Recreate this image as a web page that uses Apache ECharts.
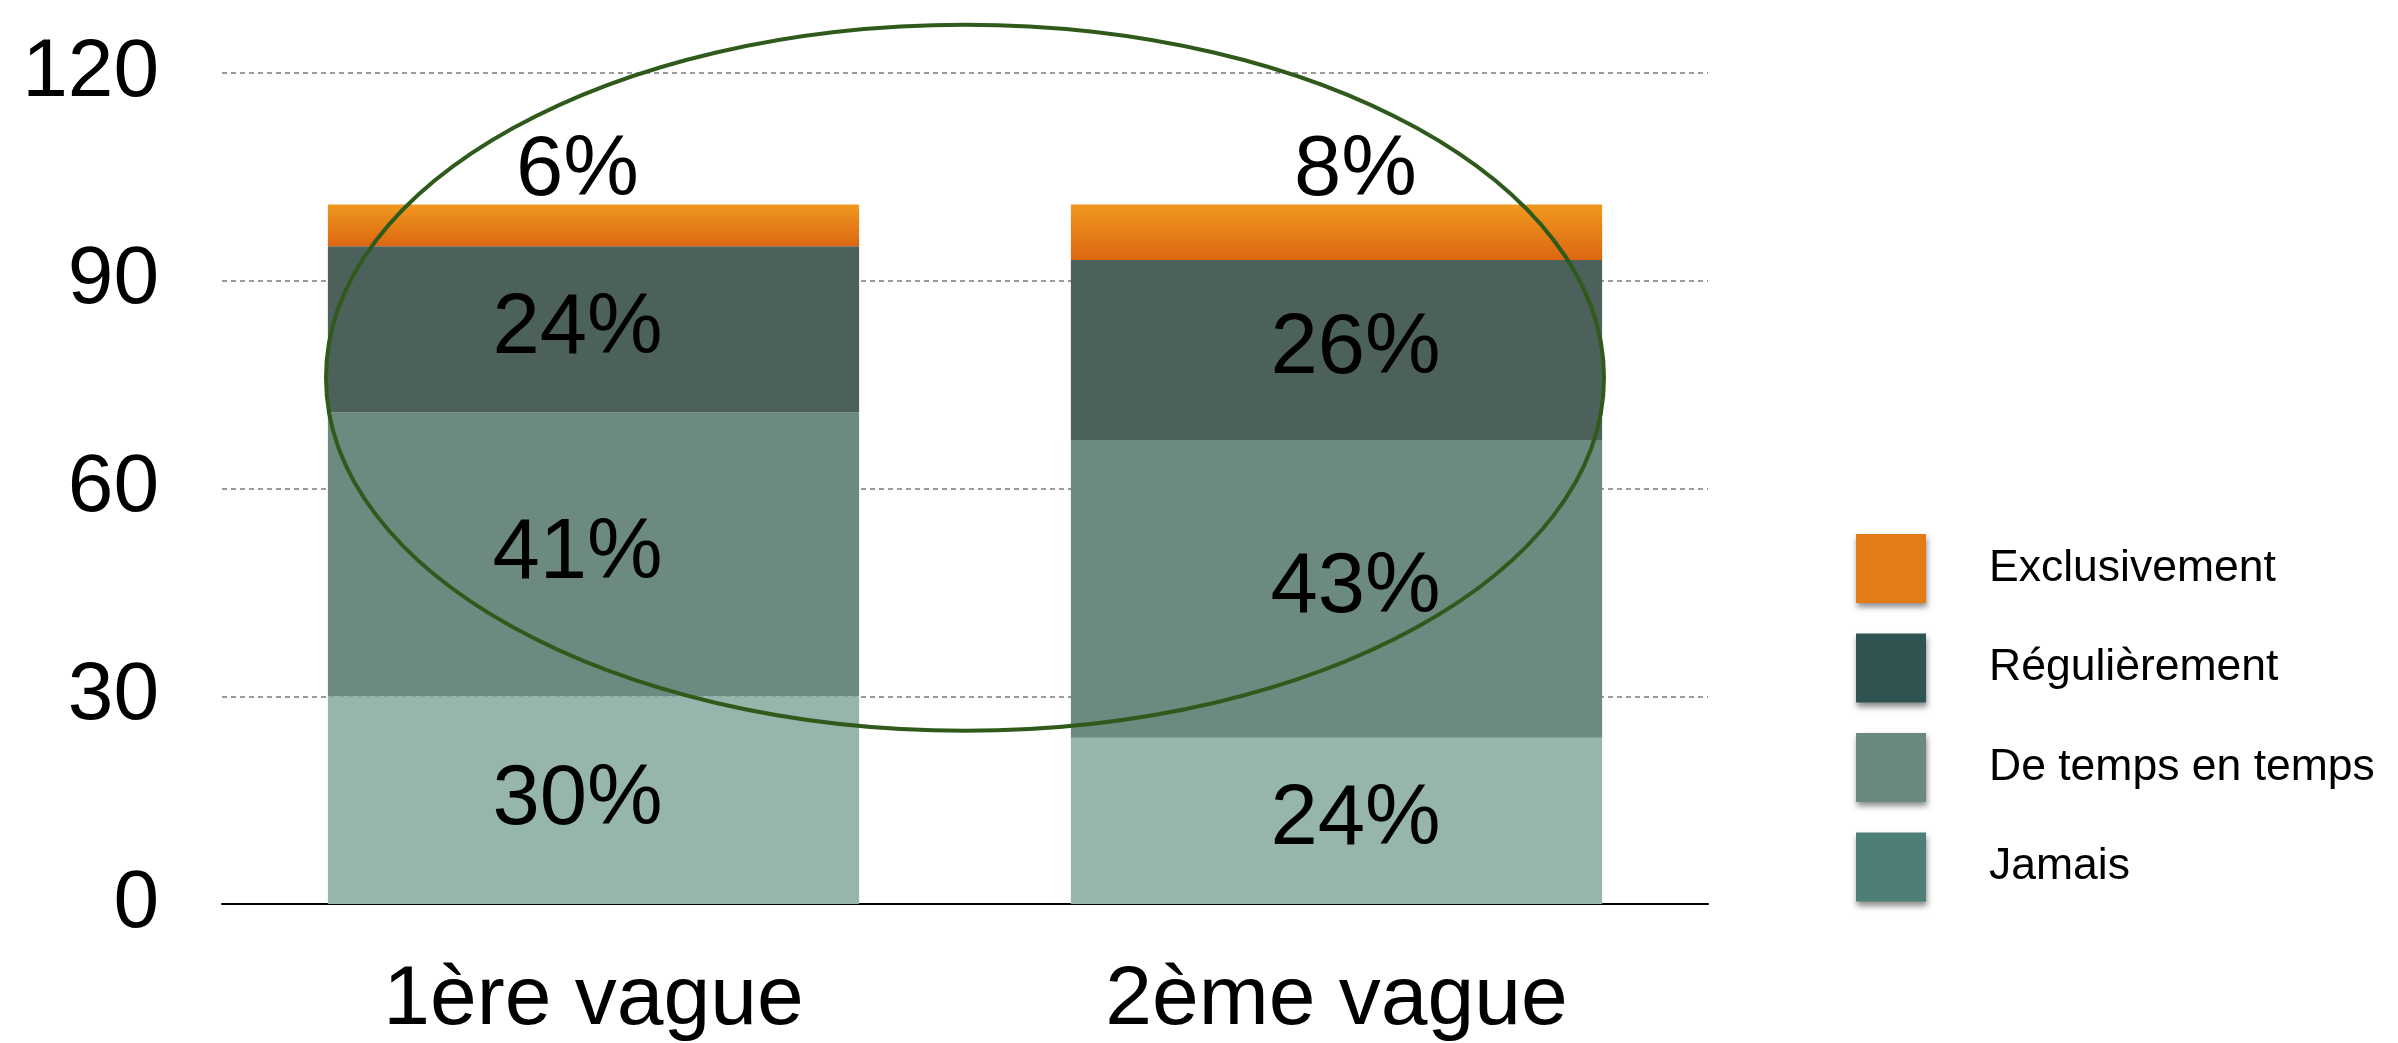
<!DOCTYPE html>
<html>
<head>
<meta charset="utf-8">
<script src="https://cdn.jsdelivr.net/npm/echarts@6/dist/echarts.min.js"></script>
<style>
  html, body { margin: 0; padding: 0; background: #ffffff; }
  #chart { width: 2398px; height: 1043px; }
</style>
</head>
<body>
<div id="chart"></div>
<script>
// Survey waves and answer shares (percent)
const categories = ['1ère vague', '2ème vague'];
const jamais = [30, 24];
const deTempsEnTemps = [41, 43];
const regulierement = [24, 26];
const exclusivement = [6, 8];

const yTicks = { min: 0, max: 120, interval: 30 };

const seriesNames = ['Jamais', 'De temps en temps', 'Régulièrement', 'Exclusivement'];
const legendOrder = ['Exclusivement', 'Régulièrement', 'De temps en temps', 'Jamais'];

// Horizontal nudge of the value labels for each wave (px)
const labelNudgeX = [-16, 19];

const FONT = '"Liberation Sans", Arial, sans-serif';

const barColors = {
  'Jamais': '#95b5ad',
  'De temps en temps': '#6d8a80',
  'Régulièrement': '#4d615c',
  'Exclusivement': new echarts.graphic.LinearGradient(0, 0, 0, 1, [
    { offset: 0, color: '#f0981f' },
    { offset: 1, color: '#dc6712' }
  ])
};
const legendColors = {
  'Exclusivement': '#e37b17',
  'Régulièrement': '#2f5350',
  'De temps en temps': '#6b8881',
  'Jamais': '#4e7f77'
};

const values = {
  'Jamais': jamais,
  'De temps en temps': deTempsEnTemps,
  'Régulièrement': regulierement,
  'Exclusivement': exclusivement
};

const chart = echarts.init(document.getElementById('chart'), null, { renderer: 'canvas' });

const series = seriesNames.map(name => ({
  name: name,
  type: 'bar',
  stack: 'total',
  barCategoryGap: '28.5%',
  data: values[name].map((v, i) => ({ value: v, label: { offset: [labelNudgeX[i], 0] } })),
  itemStyle: { color: barColors[name] },
  label: {
    show: true,
    position: name === 'Exclusivement' ? 'top' : 'inside',
    distance: name === 'Exclusivement' ? -9 : 5,
    formatter: p => p.value + '%',
    color: '#000000',
    fontFamily: FONT,
    fontSize: 85
  },
  emphasis: { disabled: true }
}));

chart.setOption({
  animation: false,
  backgroundColor: '#ffffff',
  grid: { left: 222, right: 690, top: 73, bottom: 136 },
  legend: {
    orient: 'vertical',
    left: 1851,
    top: 529,
    icon: 'rect',
    itemWidth: 70,
    itemHeight: 69,
    itemGap: 30.5,
    selectedMode: false,
    data: legendOrder.map(n => ({
      name: n,
      itemStyle: {
        color: legendColors[n],
        shadowBlur: 6,
        shadowOffsetX: 1,
        shadowOffsetY: 4,
        shadowColor: 'rgba(0,0,0,0.45)'
      }
    })),
    textStyle: {
      fontFamily: FONT,
      fontSize: 44.5,
      color: '#000000',
      padding: [0, 0, 0, 58]
    }
  },
  xAxis: {
    type: 'category',
    data: categories,
    axisLine: { show: true, lineStyle: { color: '#000000', width: 2 } },
    axisTick: { show: false },
    axisLabel: {
      margin: 55,
      color: '#000000',
      fontFamily: FONT,
      fontSize: 84
    }
  },
  yAxis: {
    type: 'value',
    min: yTicks.min,
    max: yTicks.max,
    interval: yTicks.interval,
    axisLine: { show: false },
    axisTick: { show: false },
    axisLabel: {
      margin: 63,
      color: '#000000',
      fontFamily: FONT,
      fontSize: 82
    },
    splitLine: {
      show: true,
      lineStyle: { color: '#9a9a9a', width: 2, type: [5, 4] }
    }
  },
  series: series
});

// Highlight ring around the upper answer groups of both waves
const centerPx = chart.convertToPixel({ gridIndex: 0 }, [0.5, 76]);
const midX = (chart.convertToPixel({ xAxisIndex: 0 }, categories[0]) + chart.convertToPixel({ xAxisIndex: 0 }, categories[1])) / 2;
chart.setOption({
  graphic: [{
    type: 'ellipse',
    z: 100,
    shape: { cx: midX, cy: centerPx[1], rx: 639, ry: 353 },
    style: { fill: 'none', stroke: '#2f5a1b', lineWidth: 4 }
  }]
});
</script>
</body>
</html>
